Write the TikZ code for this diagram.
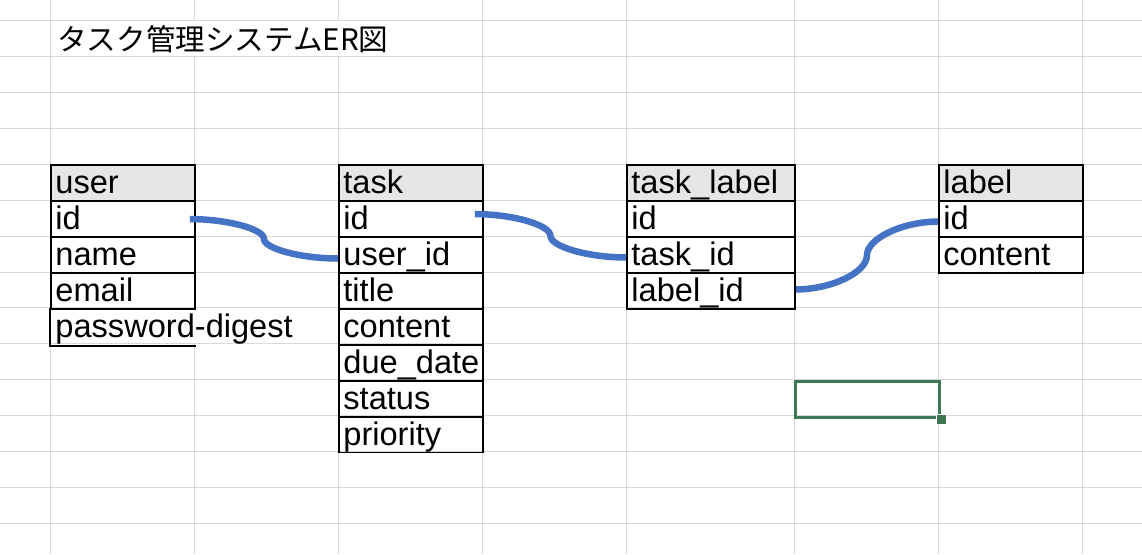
\documentclass[tikz,border=0pt]{standalone}
\usepackage{fontspec}
\setmainfont{Liberation Sans}
\newfontfamily\cjk{Noto Sans CJK JP}
\usetikzlibrary{calc}
\definecolor{gridc}{HTML}{D9D9D9}
\definecolor{hdr}{HTML}{E7E6E6}
\definecolor{connblue}{HTML}{4472C4}
\definecolor{selgreen}{HTML}{3D7650}
\tikzset{
  cellbase/.style={draw=black, line width=1.8pt, anchor=north west,
    minimum height=35.92pt, inner xsep=4.5pt, inner ysep=0pt,
    text height=28.5pt, text depth=7.4pt, align=left,
    font=\fontsize{32.6}{38}\selectfont},
  cellA/.style={cellbase, text width=135pt},
  cellB/.style={cellbase, text width=159pt},
  hdrcell/.style={fill=hdr},
  gridline/.style={draw=gridc, line width=1pt},
  conn/.style={draw=connblue, line width=6.5pt},
  selcell/.style={draw=selgreen, line width=3.4pt, anchor=north west,
    minimum width=144pt, minimum height=35.92pt, inner sep=0pt},
  selhandle/.style={fill=selgreen, draw=white, line width=0.8pt,
    minimum size=10pt, inner sep=0pt},
}
\newcommand\erlink[2]{%
  \path (#1) -- coordinate[pos=.25] (ea) coordinate[pos=.5] (eb)
    coordinate[pos=.75] (ec) (#2);
  \draw[conn] (#1) .. controls (ea |- #1) and (eb |- ea) .. (eb)
    .. controls (eb |- ec) and (ec |- #2) .. (#2);}
\begin{document}
\begin{tikzpicture}[x=1pt,y=-1pt]
\useasboundingbox[fill=white] (0,0) rectangle (1142,554);
% grid
\foreach \k in {0,...,14}
  \draw[gridline] (0,{20.62+35.92*\k}) -- (1142,{20.62+35.92*\k});
\foreach \x in {50,482,626,794,938,1082}
  \draw[gridline] (\x,0) -- (\x,554);
\draw[gridline] (194,0) -- (194,20.62) (194,56.54) -- (194,307.98) (194,343.9) -- (194,554);
\draw[gridline] (338,0) -- (338,20.62) (338,56.54) -- (338,554);
% title
\node[anchor=base west, inner sep=0pt, font=\cjk\fontsize{29.6}{34}\selectfont] (title) at (57,50) {タスク管理システムER図};
% user
\node[cellA, hdrcell] (u-h) at (50,164.3) {user};
\node[cellA] (u-id) at (50,200.22) {id};
\node[cellA] (u-name) at (50,236.14) {name};
\node[cellA] (u-email) at (50,272.06) {email};
\node[cellA, draw=none] (u-pw) at (50,307.98) {\mbox{password-digest}};
\draw[line width=1.8pt] (u-pw.north west) -- (u-pw.south west) -- (u-pw.south east);
% task
\node[cellA, hdrcell] (t-h) at (338,164.3) {task};
\node[cellA] (t-id) at (338,200.22) {id};
\node[cellA] (t-uid) at (338,236.14) {user\_id};
\node[cellA] (t-title) at (338,272.06) {title};
\node[cellA] (t-content) at (338,307.98) {content};
\node[cellA] (t-due) at (338,343.9) {due\_date};
\node[cellA] (t-status) at (338,379.82) {status};
\node[cellA] (t-prio) at (338,415.74) {priority};
% task_label
\node[cellB, hdrcell] (tl-h) at (626,164.3) {task\_label};
\node[cellB] (tl-id) at (626,200.22) {id};
\node[cellB] (tl-tid) at (626,236.14) {task\_id};
\node[cellB] (tl-lid) at (626,272.06) {label\_id};
% label
\node[cellA, hdrcell] (l-h) at (938,164.3) {label};
\node[cellA] (l-id) at (938,200.22) {id};
\node[cellA] (l-content) at (938,236.14) {content};
% selected cell
\node[selcell] (sel) at (794,379.82) {};
\node[selhandle] (handle) at (sel.south east) {};
% connectors
\coordinate (c1s) at ($(u-id.east)+(-6,0)$);
\coordinate (c1e) at ($(t-uid.west)+(0,3.5)$);
\erlink{c1s}{c1e}
\coordinate (c2s) at ($(t-id.east)+(-9,-5)$);
\coordinate (c2e) at ($(tl-tid.west)+(0,2.5)$);
\erlink{c2s}{c2e}
\coordinate (c3s) at ($(tl-lid.east)+(0,-1.5)$);
\coordinate (c3e) at ($(l-id.west)+(0,2.5)$);
\erlink{c3s}{c3e}
\end{tikzpicture}
\end{document}
